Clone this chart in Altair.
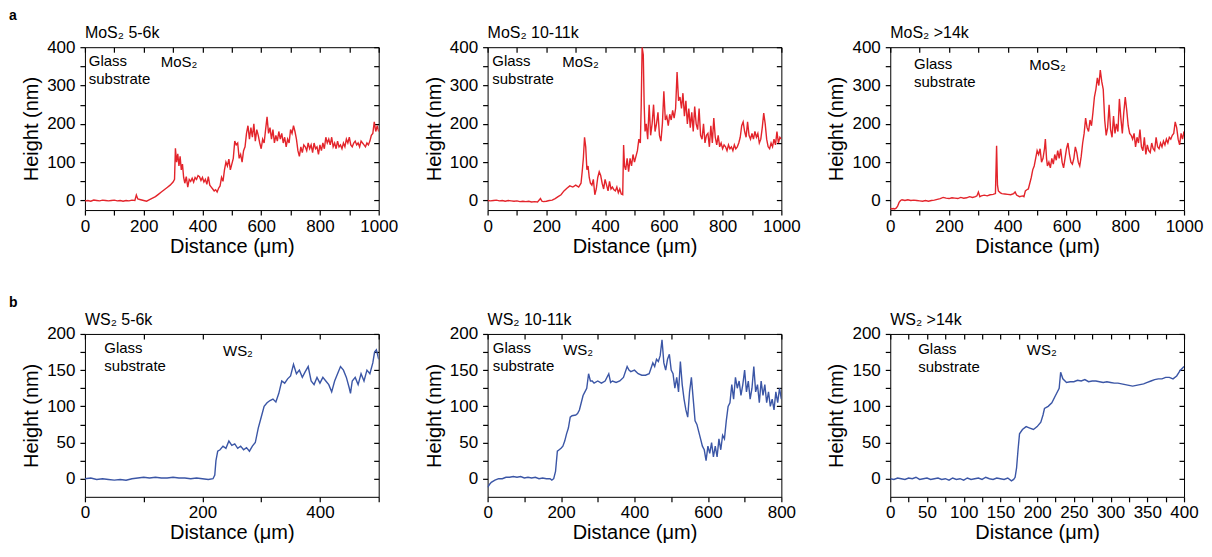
import altair as alt
import pandas as pd

FONT = "Liberation Sans"
RED = "#e3242b"
BLUE = "#3b56a6"

# ---- data: (distance in um, height in nm) ----
MOS2_5_6K = [(0,-1),(10,0),(20,-2),(30,1),(40,0),(50,-1),(60,1),(70,0),(80,-1),(90,0),(100,1),(110,-1),(120,0),(130,-2),(140,0),(150,-1),(160,1),(170,0),(175,14),(180,4),(190,2),(200,0),(210,-2),(220,2),(230,6),(240,10),(250,16),(260,22),(270,28),(280,34),(290,40),(300,48),(305,55),(308,136),(312,100),(316,122),(320,90),(324,115),(328,80),(332,95),(336,60),(340,45),(345,62),(350,35),(355,55),(360,50),(365,58),(370,48),(375,60),(380,55),(385,65),(390,62),(395,52),(400,60),(405,48),(410,55),(415,42),(420,62),(425,40),(430,35),(435,30),(440,25),(445,28),(450,22),(455,32),(460,38),(465,60),(470,50),(475,80),(480,100),(485,90),(490,108),(495,80),(500,95),(505,110),(510,155),(515,145),(520,150),(525,110),(530,120),(535,100),(540,130),(545,140),(550,175),(555,195),(560,160),(565,190),(570,165),(575,200),(580,155),(585,185),(590,170),(595,150),(600,135),(605,160),(610,150),(615,185),(620,218),(625,175),(630,190),(635,160),(640,185),(645,150),(650,170),(655,155),(660,180),(665,160),(670,175),(675,150),(680,165),(685,140),(690,160),(695,150),(700,185),(705,175),(710,195),(715,180),(720,160),(725,130),(730,115),(735,140),(740,125),(745,145),(750,140),(755,130),(760,150),(765,135),(770,145),(775,125),(780,150),(785,135),(790,140),(795,120),(800,145),(805,130),(810,150),(815,135),(820,165),(825,150),(830,160),(835,145),(840,165),(845,140),(850,150),(855,135),(860,155),(865,140),(870,145),(875,135),(880,150),(885,140),(890,160),(895,150),(900,165),(905,145),(910,140),(915,150),(920,155),(925,145),(930,150),(935,140),(940,155),(945,150),(950,145),(955,140),(960,150),(965,145),(970,155),(975,170),(980,175),(985,205),(990,180),(995,195),(1000,180)]

MOS2_10_11K = [(0,0),(10,-1),(20,0),(30,1),(40,-1),(50,0),(60,-2),(70,0),(80,-1),(90,-2),(100,-1),(110,-3),(120,-2),(130,-3),(140,-2),(150,-4),(160,-3),(170,-4),(180,5),(185,-2),(190,-3),(200,-2),(210,0),(220,1),(230,5),(240,10),(250,15),(260,25),(270,32),(280,38),(290,35),(300,40),(310,35),(318,45),(322,75),(326,110),(330,165),(334,140),(338,80),(342,90),(346,60),(350,45),(355,40),(360,55),(365,15),(370,30),(375,60),(380,75),(385,65),(390,45),(395,30),(400,55),(405,40),(410,25),(415,50),(420,30),(425,35),(430,28),(435,25),(440,35),(445,20),(450,30),(455,17),(460,15),(463,145),(466,90),(470,80),(475,110),(480,75),(485,110),(490,90),(495,120),(500,100),(505,115),(510,130),(515,160),(520,150),(523,250),(526,400),(530,380),(533,250),(536,180),(540,200),(545,160),(550,250),(555,170),(560,200),(565,250),(570,180),(575,200),(580,230),(585,170),(590,155),(595,200),(600,285),(605,210),(610,220),(615,195),(620,225),(625,210),(630,235),(635,215),(640,240),(645,335),(650,260),(655,270),(660,240),(665,280),(670,220),(675,260),(680,200),(685,240),(690,190),(695,230),(700,180),(705,245),(710,200),(715,185),(720,240),(725,170),(730,160),(735,200),(740,150),(745,170),(750,175),(755,140),(760,195),(765,150),(770,215),(775,165),(780,145),(785,170),(790,140),(795,150),(800,135),(805,145),(810,140),(815,130),(820,145),(825,135),(830,140),(835,130),(840,145),(845,135),(850,140),(855,150),(860,165),(865,195),(870,205),(875,180),(880,165),(885,205),(890,170),(895,160),(900,175),(905,160),(910,180),(915,165),(920,175),(925,150),(930,160),(935,190),(940,228),(945,200),(950,160),(955,140),(960,135),(965,150),(970,140),(975,160),(980,145),(985,180),(990,150),(995,165),(1000,160)]

MOS2_14K = [(0,-20),(5,-22),(10,-21),(15,-22),(20,-20),(25,-15),(30,-5),(35,0),(40,2),(50,0),(60,2),(70,0),(80,1),(90,0),(100,-1),(110,-2),(120,0),(130,-2),(140,0),(150,1),(160,3),(170,5),(180,8),(190,6),(200,5),(210,7),(220,6),(230,5),(240,8),(250,6),(260,7),(270,10),(280,8),(290,10),(295,12),(300,22),(305,10),(310,12),(320,14),(330,12),(340,15),(350,16),(358,18),(362,143),(365,40),(368,25),(375,20),(380,18),(390,17),(400,16),(410,15),(420,18),(425,22),(430,14),(440,10),(450,12),(455,10),(460,25),(465,28),(470,30),(475,45),(480,60),(485,80),(490,90),(495,110),(500,130),(505,120),(510,135),(515,100),(520,110),(525,135),(528,160),(532,110),(535,90),(540,100),(545,85),(550,110),(555,95),(560,120),(565,105),(570,130),(575,110),(580,135),(585,100),(590,85),(595,110),(600,135),(605,150),(610,120),(615,100),(620,95),(625,110),(630,140),(635,125),(640,100),(645,90),(650,115),(655,150),(660,175),(665,215),(670,190),(675,180),(680,210),(685,195),(690,230),(695,270),(700,290),(705,320),(710,300),(715,340),(720,310),(725,290),(730,210),(735,170),(740,190),(745,250),(750,185),(755,165),(760,220),(765,175),(770,200),(775,180),(780,265),(785,215),(790,175),(795,230),(800,270),(805,235),(810,195),(815,175),(820,170),(825,160),(830,175),(835,140),(840,165),(845,150),(850,185),(855,140),(860,130),(865,165),(870,120),(875,145),(880,130),(885,125),(890,150),(895,135),(900,130),(905,165),(910,140),(915,135),(920,150),(925,140),(930,155),(935,145),(940,160),(945,150),(950,165),(955,160),(960,170),(965,175),(970,205),(975,190),(980,160),(985,145),(990,175),(995,160),(1000,180)]

WS2_5_6K = [(0,0),(10,1),(20,-1),(30,0),(40,-1),(50,-2),(60,-1),(70,-2),(80,0),(90,1),(100,2),(110,1),(120,2),(130,1),(140,1),(150,2),(160,1),(170,1),(180,0),(190,1),(200,0),(210,-1),(218,0),(221,5),(223,25),(226,38),(230,40),(235,45),(240,42),(245,52),(250,46),(255,48),(260,42),(265,45),(270,40),(275,43),(280,38),(285,45),(290,50),(295,70),(300,85),(305,100),(310,105),(315,108),(320,110),(325,106),(330,118),(335,135),(340,132),(345,138),(350,142),(355,158),(360,145),(365,150),(370,140),(375,148),(380,155),(385,135),(390,130),(395,140),(400,132),(405,140),(410,135),(415,130),(420,120),(425,135),(430,145),(435,155),(440,150),(445,140),(450,125),(452,118),(455,135),(460,140),(465,130),(470,145),(475,135),(480,150),(485,145),(490,160),(493,175),(496,178),(498,172),(500,165)]

WS2_10_11K = [(0,-12),(5,-8),(10,-5),(20,-2),(30,0),(40,0),(50,2),(60,2),(70,3),(80,2),(90,3),(100,1),(110,2),(120,1),(130,2),(140,0),(150,1),(160,0),(170,0),(175,-2),(180,0),(185,10),(190,38),(195,40),(200,42),(205,45),(210,52),(215,62),(220,70),(225,85),(230,87),(240,88),(245,90),(250,95),(255,105),(260,115),(265,120),(270,125),(275,145),(280,135),(285,135),(290,132),(300,135),(310,132),(320,135),(330,145),(335,133),(340,135),(350,133),(360,135),(370,140),(380,155),(385,150),(390,148),(400,150),(410,145),(420,143),(430,143),(440,145),(450,160),(455,155),(460,165),(465,162),(470,170),(475,192),(480,160),(485,150),(490,165),(495,172),(500,150),(505,145),(510,125),(515,140),(520,120),(525,162),(530,130),(535,110),(540,95),(545,85),(550,120),(555,140),(560,110),(565,80),(570,75),(575,65),(580,55),(585,45),(590,40),(595,25),(600,45),(605,35),(610,50),(615,30),(620,45),(625,30),(630,55),(635,40),(640,60),(645,55),(650,80),(655,100),(660,105),(665,130),(670,110),(675,140),(680,125),(685,135),(690,115),(695,130),(700,150),(705,120),(710,135),(715,110),(720,125),(725,155),(730,120),(735,130),(740,105),(745,135),(750,115),(755,130),(760,105),(765,120),(770,100),(775,110),(780,95),(785,120),(790,105),(795,125),(800,110)]

WS2_14K = [(0,0),(5,-1),(10,1),(15,0),(20,-1),(25,1),(30,0),(35,2),(40,-1),(45,0),(50,1),(55,-1),(60,0),(65,1),(70,-1),(75,0),(80,-2),(85,1),(90,-1),(95,0),(100,-2),(105,1),(110,-1),(115,0),(120,1),(125,-1),(130,2),(135,0),(140,-1),(145,1),(150,0),(155,-1),(160,1),(165,-3),(168,-1),(170,2),(172,15),(174,40),(176,62),(180,68),(185,72),(190,70),(195,68),(200,72),(205,78),(208,88),(210,97),(215,100),(220,105),(225,115),(230,125),(232,147),(235,138),(240,133),(245,134),(250,134),(255,136),(260,135),(265,137),(270,134),(275,135),(280,135),(285,134),(290,133),(295,134),(300,133),(305,132),(310,132),(315,131),(320,130),(325,129),(330,128),(335,129),(340,130),(345,131),(350,133),(355,135),(360,137),(365,138),(370,138),(375,140),(380,140),(385,138),(390,142),(395,150),(400,155)]

TITLES = ["MoS\u2082 5-6k", "MoS\u2082 10-11k", "MoS\u2082 >14k",
          "WS\u2082 5-6k", "WS\u2082 10-11k", "WS\u2082 >14k"]
FILM_LABELS = ["MoS\u2082", "MoS\u2082", "MoS\u2082", "WS\u2082", "WS\u2082", "WS\u2082"]
SERIES = [MOS2_5_6K, MOS2_10_11K, MOS2_14K, WS2_5_6K, WS2_10_11K, WS2_14K]
LETTERS = ["a", None, None, "b", None, None]

# axis set-up per panel: x max, x tick step, x label step, y max, y tick step, y label step
AXES = [(1000, 100, 200, 400, 50, 100)] * 3 + [(500, 100, 200, 200, 25, 50),
                                              (800, 100, 200, 200, 25, 50),
                                              (400, 25, 50, 200, 25, 50)]
# annotation anchors (data coordinates): glass text, film text
GLASS_POS = [(13, 382), (16, 382), (81, 375), (33, 190), (14, 190), (38, 189)]
FILM_POS = [(258, 380), (254, 380), (473, 372), (235, 186), (206, 187), (186, 188)]

W, H = 294, 163


def panel(i):
    df = pd.DataFrame(SERIES[i], columns=["x", "y"])
    xmax, xstep, xlab, ymax, ystep, ylab = AXES[i]
    xs = alt.Scale(domain=[0, xmax], nice=False, zero=False)
    ys = alt.Scale(domain=[-25, ymax], nice=False, zero=False)
    xvals = list(range(0, xmax + 1, xstep))
    yvals = list(range(0, ymax + 1, ystep))
    x_axis = alt.Axis(values=xvals, title="Distance (\u03bcm)", tickSize=5, format="d",
                      labelExpr=f"datum.value % {xlab} === 0 ? datum.label : ''",
                      labelPadding=3, titlePadding=2, labelFlush=False, labelOverlap=False)
    y_axis = alt.Axis(values=yvals, title="Height (nm)", tickSize=5, format="d",
                      labelExpr=f"datum.value % {ylab} === 0 ? datum.label : ''",
                      labelPadding=5, titlePadding=5, labelOverlap=False)
    x_top = alt.Axis(values=xvals, orient="top", labels=False, title=None,
                     tickSize=5, offset=-5, domain=False)
    y_right = alt.Axis(values=yvals, orient="right", labels=False, title=None,
                       tickSize=5, offset=-5, domain=False)
    color = RED if i < 3 else BLUE
    line = alt.Chart(df).mark_line(color=color, strokeWidth=1.4, clip=True).encode(
        x=alt.X("x:Q", scale=xs, axis=x_axis),
        y=alt.Y("y:Q", scale=ys, axis=y_axis),
    )
    mirror = alt.Chart(df).mark_line(opacity=0).encode(
        x=alt.X("x:Q", scale=xs, axis=x_top),
        y=alt.Y("y:Q", scale=ys, axis=y_right),
    )
    ann = pd.DataFrame({
        "x": [GLASS_POS[i][0], FILM_POS[i][0]],
        "y": [GLASS_POS[i][1], FILM_POS[i][1]],
        "t": ["Glass\nsubstrate", FILM_LABELS[i]],
    })
    texts = alt.Chart(ann).mark_text(align="left", baseline="top", fontSize=15,
                                     font=FONT, color="black", lineBreak="\n",
                                     lineHeight=18).encode(
        x=alt.X("x:Q", scale=xs, axis=None),
        y=alt.Y("y:Q", scale=ys, axis=None),
        text="t:N",
    )
    title = alt.Chart(pd.DataFrame({"t": [TITLES[i]]})).mark_text(
        align="left", baseline="alphabetic", fontSize=16, font=FONT, color="black"
    ).encode(x=alt.value(0), y=alt.value(-9), text="t:N")
    layers = [line, mirror, texts, title]
    if LETTERS[i]:
        letter = alt.Chart(pd.DataFrame({"t": [LETTERS[i]]})).mark_text(
            align="left", baseline="alphabetic", fontSize=14, font=FONT,
            fontWeight="bold", color="black"
        ).encode(x=alt.value(-76), y=alt.value(-27), text="t:N")
        layers.append(letter)
    return alt.layer(*layers).resolve_scale(
        x="independent", y="independent"
    ).resolve_axis(x="independent", y="independent").properties(width=W, height=H)


chart = alt.concat(*[panel(i) for i in range(6)], columns=3,
                   spacing={"row": 124, "column": 109}, bounds="flush").properties(
    padding=0, background="white"
).configure_view(stroke="black", strokeWidth=1).configure_axis(
    labelFont=FONT, titleFont=FONT, labelFontSize=17, titleFontSize=20,
    titleFontWeight="normal", labelColor="black", titleColor="black",
    tickColor="black", tickWidth=1.2, grid=False, domain=False,
)

chart.save("out.html", embed_options={"renderer": "svg", "actions": False})
